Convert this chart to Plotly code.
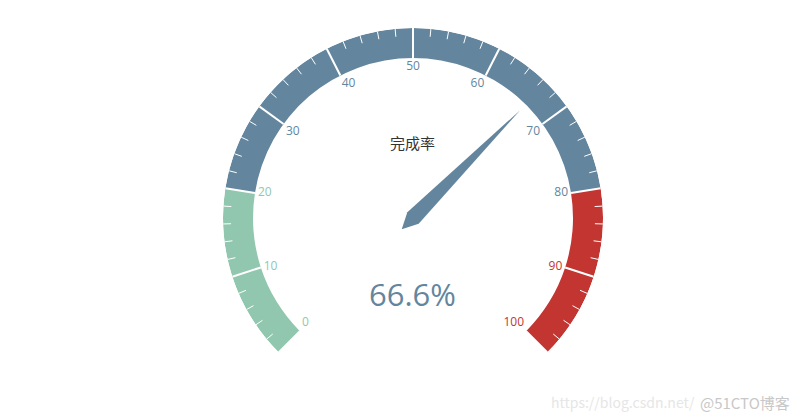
import math
import plotly.graph_objects as go

# gauge data
value = 66.6
title_text = "完成率"
seg_ends = [20, 80, 100]                      # segment upper bounds (gauge values)
seg_colors = ["#91c7ae", "#63869e", "#c23531"]
tick_values = [0, 10, 20, 30, 40, 50, 60, 70, 80, 90, 100]
tick_labels = ["0", "10", "20", "30", "40", "50", "60", "70", "80", "90", "100"]

W, H = 802, 420
cx, cy, R = 413, 218, 190   # gauge centre / radius in pixels
ring = 30
SPAN = 270.0                # degrees covered by 0..100


def ang(v):
    return v / 100.0 * SPAN


def seg_color(v):
    for end, c in zip(seg_ends, seg_colors):
        if v <= end:
            return c
    return seg_colors[-1]


fig = go.Figure()

# ring segments
start = 0
for end, c in zip(seg_ends, seg_colors):
    fig.add_trace(go.Barpolar(
        theta=[ang((start + end) / 2)], width=[ang(end - start)],
        base=[R - ring], r=[ring],
        marker=dict(color=c, line=dict(width=0)),
        hoverinfo="skip", showlegend=False))
    start = end

# split lines (every 10) and minor ticks (every 2)
sr, st = [], []
for v in tick_values:
    sr += [R - ring, R, None]
    st += [ang(v), ang(v), None]
tr, tt = [], []
for v in range(0, 101, 2):
    if v % 10 == 0:
        continue
    tr += [R - 8, R, None]
    tt += [ang(v), ang(v), None]
fig.add_trace(go.Scatterpolar(r=sr, theta=st, mode="lines",
                              line=dict(color="white", width=2),
                              hoverinfo="skip", showlegend=False))
fig.add_trace(go.Scatterpolar(r=tr, theta=tt, mode="lines",
                              line=dict(color="white", width=1),
                              hoverinfo="skip", showlegend=False))

# axis labels
for v, lab in zip(tick_values, tick_labels):
    a = math.radians(225 - ang(v))
    ux, uy = math.cos(a), -math.sin(a)  # screen direction
    h = "right" if ux < -0.4 else ("left" if ux > 0.4 else "center")
    vv = "bottom" if uy < -0.4 else ("top" if uy > 0.4 else "middle")
    pos = (vv + " " + h) if not (vv == "middle" and h == "center") else "middle center"
    fig.add_trace(go.Scatterpolar(
        r=[R - ring - 3], theta=[ang(v)], mode="text", text=[lab],
        textposition=pos,
        textfont=dict(size=12, color=seg_color(v), family="Open Sans, sans-serif"),
        hoverinfo="skip", showlegend=False))

# pointer
pa = ang(value)
fig.add_trace(go.Scatterpolar(
    r=[16, 8, 0.8 * R, 8, 16],
    theta=[pa + 180, pa - 90, pa, pa + 90, pa + 180],
    mode="lines", fill="toself", fillcolor=seg_color(value),
    line=dict(width=0, color=seg_color(value)),
    hoverinfo="skip", showlegend=False))

fig.update_layout(
    width=W, height=H,
    margin=dict(l=0, r=0, t=0, b=0),
    paper_bgcolor="white",
    polar=dict(
        domain=dict(x=[(cx - R) / W, (cx + R) / W],
                    y=[(H - cy - R) / H, (H - cy + R) / H]),
        bgcolor="rgba(0,0,0,0)",
        hole=0,
        radialaxis=dict(range=[0, R], visible=False, showgrid=False),
        angularaxis=dict(rotation=225, direction="clockwise", visible=False,
                         showgrid=False, thetaunit="degrees", period=360),
    ),
    annotations=[
        dict(text=title_text, x=cx / W, y=(H - (cy - 0.4 * R)) / H,
             xref="paper", yref="paper", showarrow=False, yanchor="middle",
             font=dict(size=15, color="#333333",
                       family="Noto Sans CJK SC, sans-serif")),
        dict(text=f"{value}%", x=cx / W, y=(H - (cy + 0.4 * R)) / H,
             xref="paper", yref="paper", showarrow=False, yanchor="middle",
             font=dict(size=31, color=seg_color(value),
                       family="Open Sans, sans-serif")),
        dict(text="https://blog.csdn.net/", x=697 / W, y=(H - 402) / H,
             xref="paper", yref="paper", showarrow=False, xanchor="right",
             yanchor="middle",
             font=dict(size=14, color="#e6e6e6",
                       family="Noto Sans CJK SC, sans-serif")),
        dict(text="@51CTO博客", x=792 / W, y=(H - 402) / H,
             xref="paper", yref="paper", showarrow=False, xanchor="right",
             yanchor="middle",
             font=dict(size=15, color="#c8c8c8",
                       family="Noto Sans CJK SC, sans-serif")),
    ],
)

fig.write_html("out.html", config={"displayModeBar": False},
               post_script="document.body.style.margin='0';")
